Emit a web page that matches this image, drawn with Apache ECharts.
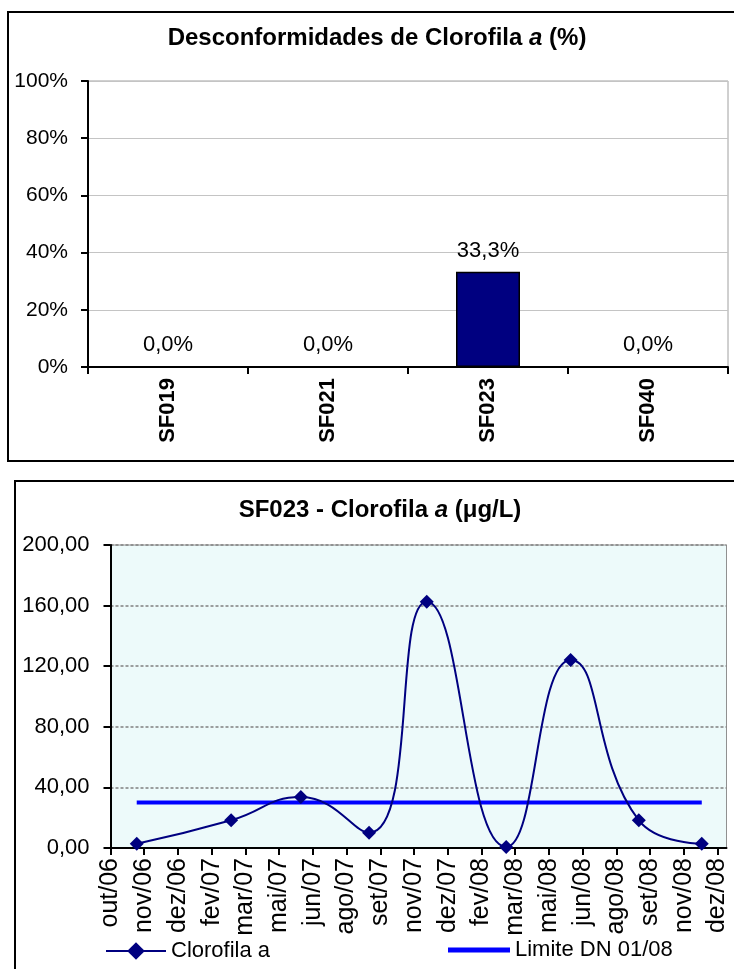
<!DOCTYPE html>
<html>
<head>
<meta charset="utf-8">
<script src="https://cdn.jsdelivr.net/npm/echarts@6/dist/echarts.min.js"></script>
<style>
html,body{margin:0;padding:0;background:#fff;}
#c{width:734px;height:969px;}
</style>
</head>
<body>
<div id="c"></div>
<script>
// Non-conformity share per monitoring station
const stations = ['SF019', 'SF021', 'SF023', 'SF040'];
const nonConformity = [0, 0, 33.3, 0];

// SF023 chlorophyll-a campaigns (µg/L)
const sampleDates = ['2006-11-05', '2007-03-11', '2007-06-12', '2007-09-11', '2007-11-27',
                     '2008-03-12', '2008-06-06', '2008-09-05', '2008-11-28'];
const chlorophyll = [2.8, 18.3, 33.6, 10.1, 162.6, 0.7, 124.1, 18.3, 2.8];
const limitDN = 30;

// Date axis: start, end, tick step (days) and month abbreviations for tick labels
const axisStart = '2006-10-01';
const axisEnd = '2008-12-31';
const tickDays = 45;
const monthAbbr = ['jan', 'fev', 'mar', 'abr', 'mai', 'jun', 'jul', 'ago', 'set', 'out', 'nov', 'dez'];

const FONT = 'Liberation Sans, Arial, sans-serif';
const DAY = 86400000;
const t0 = Date.parse(axisStart);
const dayOf = d => Math.round((Date.parse(d) - t0) / DAY);
const comma = (v, n) => v.toFixed(n).replace('.', ',');

const chlData = sampleDates.map((d, i) => [dayOf(d), chlorophyll[i]]);
const limData = sampleDates.map(d => [dayOf(d), limitDN]);

const titleRich = {
  b: {fontFamily: FONT, fontWeight: 'bold', fontSize: 24, fill: '#000'},
  i: {fontFamily: FONT, fontWeight: 'bold', fontStyle: 'italic', fontSize: 24, fill: '#000'}
};

const chart = echarts.init(document.getElementById('c'), null, {renderer: 'canvas'});

chart.setOption({
  animation: false,
  backgroundColor: '#fff',
  textStyle: {fontFamily: FONT},
  graphic: [
    {type: 'rect', shape: {x: 8, y: 12, width: 780, height: 449}, style: {fill: 'none', stroke: '#000', lineWidth: 2}, z: 100},
    {type: 'rect', shape: {x: 15, y: 481, width: 780, height: 540}, style: {fill: 'none', stroke: '#000', lineWidth: 2}, z: 100},
    {type: 'text', x: 377, y: 38, style: {
      text: '{b|Desconformidades de Clorofila }{i|a}{b| (%)}',
      align: 'center', verticalAlign: 'middle', rich: titleRich
    }},
    {type: 'text', x: 380, y: 510, style: {
      text: '{b|SF023 - Clorofila }{i|a}{b| (μg/L)}',
      align: 'center', verticalAlign: 'middle', rich: titleRich
    }}
  ],
  grid: [
    {left: 88, top: 81, width: 640, height: 286, show: true, backgroundColor: '#fff', borderColor: '#a0a0a0', borderWidth: 1, containLabel: false},
    {left: 110.5, top: 545, width: 616, height: 303, show: true, backgroundColor: '#EDFAFA', borderColor: '#909090', borderWidth: 1, containLabel: false}
  ],
  xAxis: [
    {
      type: 'category', gridIndex: 0, data: stations,
      axisLine: {show: true, lineStyle: {color: '#000', width: 2}},
      axisTick: {show: true, length: 7, lineStyle: {color: '#000', width: 2}},
      axisLabel: {rotate: 90, margin: 11, fontSize: 22, fontWeight: 'bold', color: '#000', fontFamily: FONT},
      splitLine: {show: false}
    },
    {
      type: 'value', gridIndex: 1, min: 0, max: dayOf(axisEnd), interval: tickDays,
      axisLine: {show: true, onZero: false, lineStyle: {color: '#000', width: 2}},
      axisTick: {show: true, length: 7, lineStyle: {color: '#000', width: 2}},
      axisLabel: {
        rotate: 90, margin: 10, fontSize: 25, color: '#000', fontFamily: FONT,
        showMaxLabel: false,
        formatter: v => {
          if (v % tickDays) return '';
          const d = new Date(t0 + v * DAY);
          return monthAbbr[d.getUTCMonth()] + '/' + String(d.getUTCFullYear()).slice(2);
        }
      },
      splitLine: {show: false}
    }
  ],
  yAxis: [
    {
      type: 'value', gridIndex: 0, min: 0, max: 100, interval: 20,
      axisLine: {show: true, lineStyle: {color: '#000', width: 2}},
      axisTick: {show: true, length: 7, lineStyle: {color: '#000', width: 2}},
      axisLabel: {formatter: '{value}%', margin: 20, fontSize: 21, color: '#000', fontFamily: FONT},
      splitLine: {show: true, lineStyle: {color: '#c4c4c4', width: 1}}
    },
    {
      type: 'value', gridIndex: 1, min: 0, max: 200, interval: 40,
      axisLine: {show: true, lineStyle: {color: '#000', width: 2}},
      axisTick: {show: true, length: 7, lineStyle: {color: '#000', width: 2}},
      axisLabel: {formatter: v => comma(v, 2), margin: 21, fontSize: 22, color: '#000', fontFamily: FONT},
      splitLine: {show: true, lineStyle: {color: '#808080', width: 1.5, type: [3, 2]}}
    }
  ],
  legend: [
    {
      data: ['Clorofila a'], left: 100, top: 935, itemWidth: 60, itemHeight: 22, itemGap: 6,
      textStyle: {fontSize: 22, color: '#000', fontFamily: FONT}
    },
    {
      data: [{name: 'Limite DN 01/08', icon: 'rect'}], left: 443, top: 934, itemWidth: 62, itemHeight: 5,
      textStyle: {fontSize: 22, color: '#000', fontFamily: FONT}
    }
  ],
  series: [
    {
      name: 'Desconformidades', type: 'bar', xAxisIndex: 0, yAxisIndex: 0,
      data: nonConformity, barWidth: '40%',
      itemStyle: {color: '#000080', borderColor: '#000', borderWidth: 1.5},
      label: {
        show: true, position: 'top', distance: 10, fontSize: 22, color: '#000', fontFamily: FONT,
        formatter: p => comma(p.value, 1) + '%'
      }
    },
    {
      name: 'Limite DN 01/08', type: 'line', xAxisIndex: 1, yAxisIndex: 1,
      data: limData, showSymbol: false, symbol: 'none',
      lineStyle: {color: '#0000FF', width: 4}, itemStyle: {color: '#0000FF'}, z: 2
    },
    {
      name: 'Clorofila a', type: 'line', xAxisIndex: 1, yAxisIndex: 1,
      data: chlData, smooth: 0.5,
      symbol: 'diamond', symbolSize: 14,
      lineStyle: {color: '#000080', width: 2}, itemStyle: {color: '#000080'}, z: 3
    }
  ]
});
</script>
</body>
</html>
